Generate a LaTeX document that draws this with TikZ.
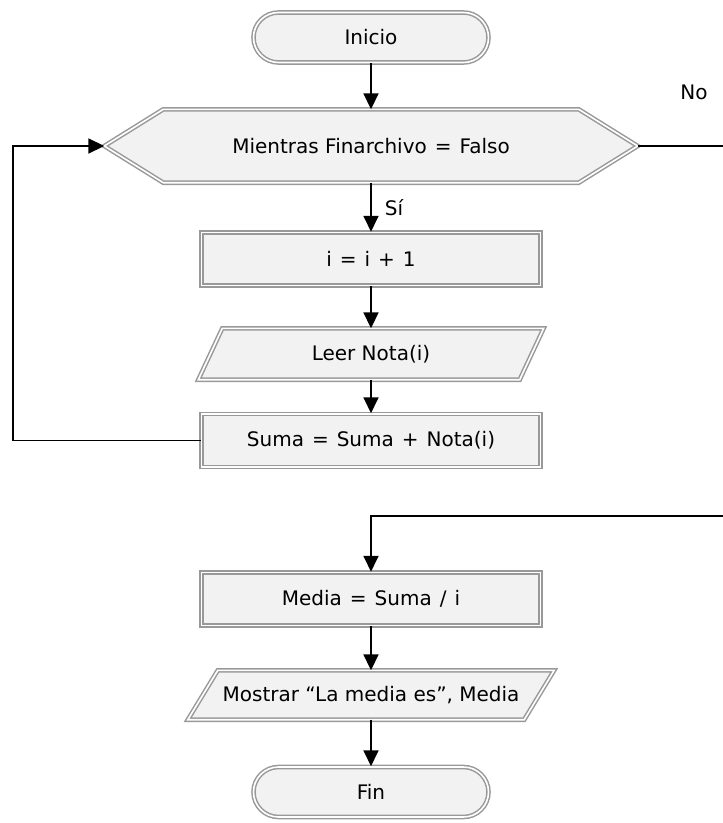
\documentclass[tikz,border=0pt]{standalone}
\usepackage{fontspec}
\setmainfont{DejaVu Sans}
\usetikzlibrary{shapes.misc,arrows.meta,backgrounds,calc}
\newcommand\opsp[1]{\hspace{0.4em}#1\hspace{0.4em}}
\begin{document}
\begin{tikzpicture}[x=1pt,y=-1pt,
  shapeline/.style={draw=black!40, line width=1.5pt, double=white, double distance=1.6pt, fill=black!5},
  txt/.style={font=\fontsize{20}{24}\selectfont, inner sep=0pt},
  proc/.style={shapeline, txt, rectangle, minimum width=339pt, minimum height=53pt},
  term/.style={shapeline, txt, rounded rectangle, minimum width=235pt, minimum height=50pt},
  arr/.style={draw=black, line width=1.8pt, -{Triangle[length=16pt,width=15pt]}},
  conn/.style={draw=black, line width=1.8pt},
  lbl/.style={font=\fontsize{20}{24}\selectfont, inner sep=0pt}]
\useasboundingbox (0,0) rectangle (723,823);

% nodes
\node[term] (inicio) at (371,37.5) {Inicio};
\node[txt, minimum width=533pt, minimum height=73pt] (mientras) at (371,146) {Mientras Finarchivo\opsp{=}Falso};
\node[proc] (inc) at (371,259) {i\opsp{=}i\opsp{+}1};
\node[txt, minimum width=321pt, minimum height=51pt] (leer) at (371,354) {Leer Nota(i)};
\node[proc] (suma) at (371,440.5) {Suma\opsp{=}Suma\opsp{+}Nota(i)};
\node[proc] (media) at (371,599) {Media\opsp{=}Suma\opsp{/}i};
\node[txt, minimum width=336pt, minimum height=49pt] (mostrar) at (371,695) {Mostrar “La media es”, Media};
\node[term] (fin) at (371,792) {Fin};

\node[lbl] (no) at (694,92) {No};
\node[lbl] (si) at (394,208) {Sí};

% outlines of custom shapes
\begin{scope}[on background layer]
  \path[shapeline] (mientras.west) -- ($(mientras.north west)+(59,0)$) -- ($(mientras.north east)+(-59,0)$)
     -- (mientras.east) -- ($(mientras.south east)+(-59,0)$) -- ($(mientras.south west)+(59,0)$) -- cycle;
  \path[shapeline] ($(leer.north west)+(12,0)$) -- ($(leer.north east)+(12,0)$)
     -- ($(leer.south east)+(-12,0)$) -- ($(leer.south west)+(-12,0)$) -- cycle;
  \path[shapeline] ($(mostrar.north west)+(15,0)$) -- ($(mostrar.north east)+(15,0)$)
     -- ($(mostrar.south east)+(-15,0)$) -- ($(mostrar.south west)+(-15,0)$) -- cycle;
\end{scope}

% connectors
\coordinate (noend) at (723,146);
\coordinate (retstart) at (723,516);
\coordinate (loopc) at (13,146);

\draw[arr] (inicio.south) -- (mientras.north);
\draw[conn] (mientras.east) -- (noend);
\draw[arr] (mientras.south) -- (inc.north);
\draw[arr] (inc.south) -- (leer.north);
\draw[arr] (leer.south) -- (suma.north);
\draw[arr] (suma.west) -| (loopc) -- (mientras.west);
\draw[arr] (retstart) -| (media.north);
\draw[arr] (media.south) -- (mostrar.north);
\draw[arr] (mostrar.south) -- (fin.north);
\end{tikzpicture}
\end{document}
